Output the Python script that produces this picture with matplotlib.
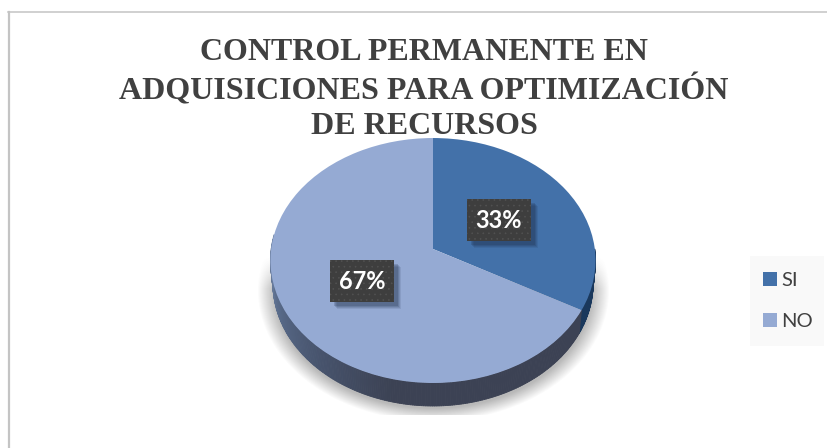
import numpy as np
import matplotlib
matplotlib.use("Agg")
import matplotlib.pyplot as plt
from matplotlib.collections import PolyCollection
from matplotlib.lines import Line2D
from matplotlib.patches import Rectangle
from matplotlib.transforms import Affine2D, Transform

W, H = 827, 448

categories = ["SI", "NO"]
shares = [33, 67]
slice_colors = ["#4371a9", "#95aad3"]
title_lines = ["CONTROL PERMANENTE EN", "ADQUISICIONES PARA OPTIMIZACIÓN", "DE RECURSOS"]

TILT = 0.0939
SCALE_X, SCALE_Y = 161.8, 121.4
APEX = (433, 249)
DEPTH = 23


class Tilted(Transform):
    """Perspective view of the unit disk, as if leaning away from the viewer."""
    input_dims = output_dims = 2
    has_inverse = False

    def transform_non_affine(self, values):
        v = np.asarray(values, dtype=float)
        d = 1 + TILT * v[:, 1]
        return np.column_stack([v[:, 0] / d, v[:, 1] / d])


def rim(theta):
    """Screen position of the disk edge at clockwise angle theta from the top."""
    x, y = np.sin(theta), np.cos(theta)
    d = 1 + TILT * y
    return APEX[0] + SCALE_X * x / d, APEX[1] - SCALE_Y * y / d


plt.rcParams["font.family"] = ["Lato", "DejaVu Sans"]
plt.rcParams["hatch.linewidth"] = 0.4
fig = plt.figure(figsize=(W / 100, H / 100), dpi=100, facecolor="white")
ax = fig.add_axes([0, 0, 1, 1])

disk = Tilted() + Affine2D().scale(SCALE_X, -SCALE_Y).translate(*APEX) + ax.transData

wedges, _, pct_labels = ax.pie(
    shares,
    colors=slice_colors,
    startangle=90,
    counterclock=False,
    autopct="%.0f%%",
    pctdistance=0.49,
    wedgeprops={"transform": disk, "linewidth": 0, "zorder": 4},
    textprops={"color": "white", "fontweight": "bold", "fontsize": 17, "zorder": 7},
)
ax.set_aspect("auto")
ax.axis("off")

# Soft grey shadow under the disk, cut off below and above.
yy, xx = np.mgrid[0:H, 0:W]
rr = np.hypot((xx - 433) / 176, (yy - 290) / 131)
alpha = np.clip((1 - rr) / 0.10, 0, 1) * 0.42
alpha *= np.clip((yy - 256) / 32, 0, 1) * (yy < 415)
shadow = np.zeros((H, W, 4))
shadow[..., :3] = 0.35
shadow[..., 3] = alpha
ax.imshow(shadow, extent=(0, W, H, 0), zorder=1, interpolation="bilinear", aspect="auto")
ax.set_xlim(0, W)
ax.set_ylim(H, 0)

# Extruded side of the pie, split into thin strips for the shading.
boundary = 2 * np.pi * shares[0] / sum(shares)
left_end = 3 * np.pi / 2 + 0.12
angles = np.linspace(np.pi / 2, left_end, 260)
side_stops = np.array([[0.45, 0.53, 0.66], [0.35, 0.42, 0.54], [0.28, 0.33, 0.43], [0.235, 0.26, 0.33]])
quads, shades = [], []
for a0, a1 in zip(angles[:-1], angles[1:]):
    x0, y0 = rim(a0)
    x1, y1 = rim(a1)
    shrink = 0.985
    bx0, bx1 = APEX[0] + (x0 - APEX[0]) * shrink, APEX[0] + (x1 - APEX[0]) * shrink
    quads.append([(x0, y0), (x1, y1), (bx1, y1 + DEPTH), (bx0, y0 + DEPTH)])
    mid = (a0 + a1) / 2
    if mid < boundary:
        shades.append((0.10, 0.22, 0.36))
    else:
        t = np.clip((left_end - mid) / 1.45, 0, 1)
        pos = t * (len(side_stops) - 1)
        i = min(int(pos), len(side_stops) - 2)
        shades.append(tuple(side_stops[i] + (side_stops[i + 1] - side_stops[i]) * (pos - i)))
ax.add_collection(PolyCollection(quads, facecolors=shades, edgecolors=shades, linewidths=0.6, zorder=3))

# Percentage labels sit on dark dotted plates with an offset shadow.
for label in pct_labels:
    label.set_transform(disk + Affine2D().translate(-1, -1))
fig.canvas.draw()
renderer = fig.canvas.get_renderer()
for label in pct_labels:
    px = label.get_window_extent(renderer)
    cx = (px.x0 + px.x1) / 2
    cy = H - (px.y0 + px.y1) / 2
    for off, a in [(7, 0.10), (6, 0.13), (5, 0.16), (4, 0.2)]:
        ax.add_patch(Rectangle((cx - 32 + off, cy - 21 + off), 64, 42, facecolor="#1b2a45",
                               alpha=a, linewidth=0, zorder=5))
    ax.add_patch(Rectangle((cx - 32, cy - 21), 64, 42, facecolor="#3e3e3e",
                           edgecolor="#525252", hatch="...", linewidth=0, zorder=6))

# Chart frame: only the top and left rules are in view.
line_color = "#c4c4c4"
fig.add_artist(Line2D([8.5 / W, 8.5 / W], [0, 1 - 12.5 / H], color=line_color, lw=1.6))
fig.add_artist(Line2D([8 / W, 1], [1 - 12.5 / H, 1 - 12.5 / H], color=line_color, lw=1.1))

# Title
for text, y in zip(title_lines, [52, 90, 127]):
    ax.text(424, y, text, ha="center", va="center", family="Liberation Serif",
            fontweight="bold", fontsize=23, color="#404040", zorder=8)

# Legend on its pale panel
ax.add_patch(Rectangle((750, 256), 74, 90, facecolor="#f9f9f9", linewidth=0, zorder=2))
legend = ax.legend(
    wedges, categories, loc="center left", bbox_to_anchor=(763 / W, 1 - 301 / H),
    frameon=False, fontsize=14.5, labelcolor="#404040",
    handlelength=0.7, handleheight=0.7, handletextpad=0.2, labelspacing=1.2,
    borderpad=0, borderaxespad=0,
)

fig.savefig("out.png", dpi=100, facecolor="white")
